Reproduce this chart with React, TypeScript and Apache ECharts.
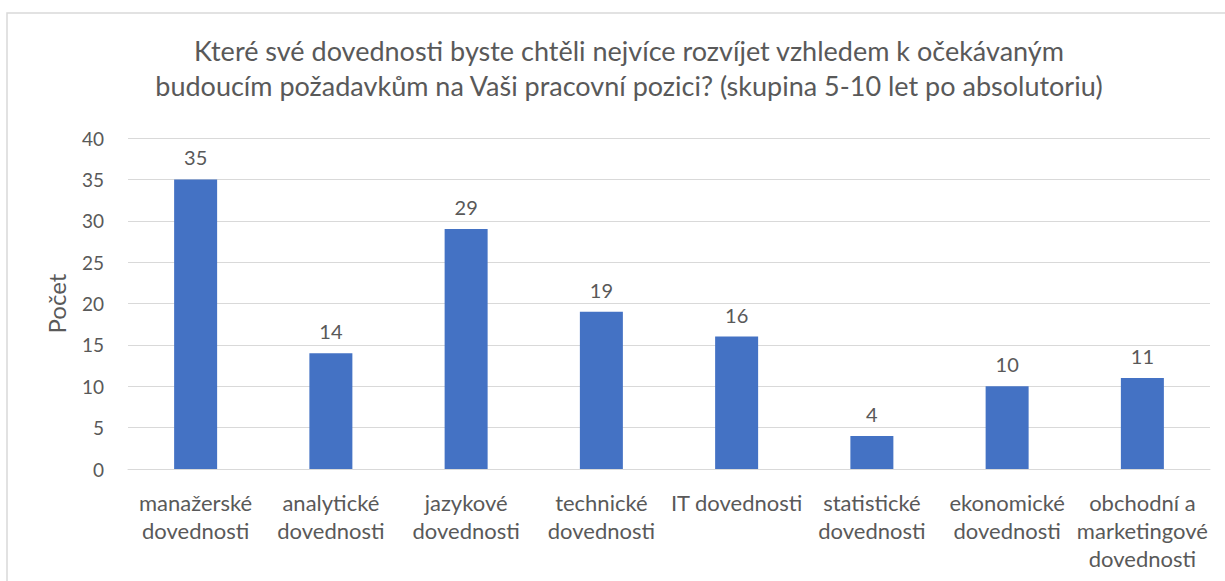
import React, { useEffect, useRef } from "react";
import * as echarts from "echarts";

const titleLines = [
  "Které své dovednosti byste chtěli nejvíce rozvíjet vzhledem k očekávaným",
  "budoucím požadavkům na Vaši pracovní pozici? (skupina 5-10 let po absolutoriu)",
];
const categories = [
  "manažerské\ndovednosti",
  "analytické\ndovednosti",
  "jazykové\ndovednosti",
  "technické\ndovednosti",
  "IT dovednosti",
  "statistické\ndovednosti",
  "ekonomické\ndovednosti",
  "obchodní a\nmarketingové\ndovednosti",
];
const values = [35, 14, 29, 19, 16, 4, 10, 11];
const yAxisName = "Počet";

const FONT = "Lato, 'Open Sans', sans-serif";
const TXT = "#595959";

export default function App() {
  const ref = useRef<HTMLDivElement>(null);
  useEffect(() => {
    if (!ref.current) return;
    const chart = echarts.init(ref.current, undefined, { renderer: "svg" });
    chart.setOption({
      animation: false,
      backgroundColor: "#ffffff",
      graphic: [
        {
          type: "rect",
          shape: { x: 7, y: 13, width: 1300, height: 700 },
          style: { fill: "none", stroke: "#d9d9d9", lineWidth: 1.5 },
          silent: true,
          z: -1,
        },
      ],
      title: {
        text: titleLines.join("\n"),
        left: 624,
        top: 28,
        textAlign: "center",
        textStyle: {
          fontFamily: FONT,
          fontSize: 27,
          fontWeight: "normal",
          color: TXT,
          lineHeight: 35,
        },
      },
      grid: { left: 128, right: 15, top: 138, bottom: 112, containLabel: false },
      xAxis: {
        type: "category",
        data: categories,
        axisLine: { lineStyle: { color: "#d9d9d9", width: 1 } },
        axisTick: { show: false },
        axisLabel: {
          interval: 0,
          fontFamily: FONT,
          fontSize: 22,
          color: TXT,
          lineHeight: 28,
          margin: 19,
        },
      },
      yAxis: {
        type: "value",
        min: 0,
        max: 40,
        interval: 5,
        name: yAxisName,
        nameLocation: "middle",
        nameGap: 60,
        nameTextStyle: { fontFamily: FONT, fontSize: 24, color: TXT },
        axisLine: { show: false },
        axisTick: { show: false },
        splitLine: { lineStyle: { color: "#d9d9d9", width: 1 } },
        axisLabel: { fontFamily: FONT, fontSize: 19, color: TXT, margin: 24 },
      },
      series: [
        {
          type: "bar",
          data: values,
          barWidth: 43,
          itemStyle: { color: "#4472C4" },
          label: {
            show: true,
            position: "top",
            distance: 12,
            fontFamily: FONT,
            fontSize: 20,
            color: TXT,
          },
        },
      ],
    });
    return () => chart.dispose();
  }, []);
  return (
    <div
      ref={ref}
      style={{ position: "fixed", left: 0, top: 0, width: 1225, height: 581 }}
    />
  );
}
